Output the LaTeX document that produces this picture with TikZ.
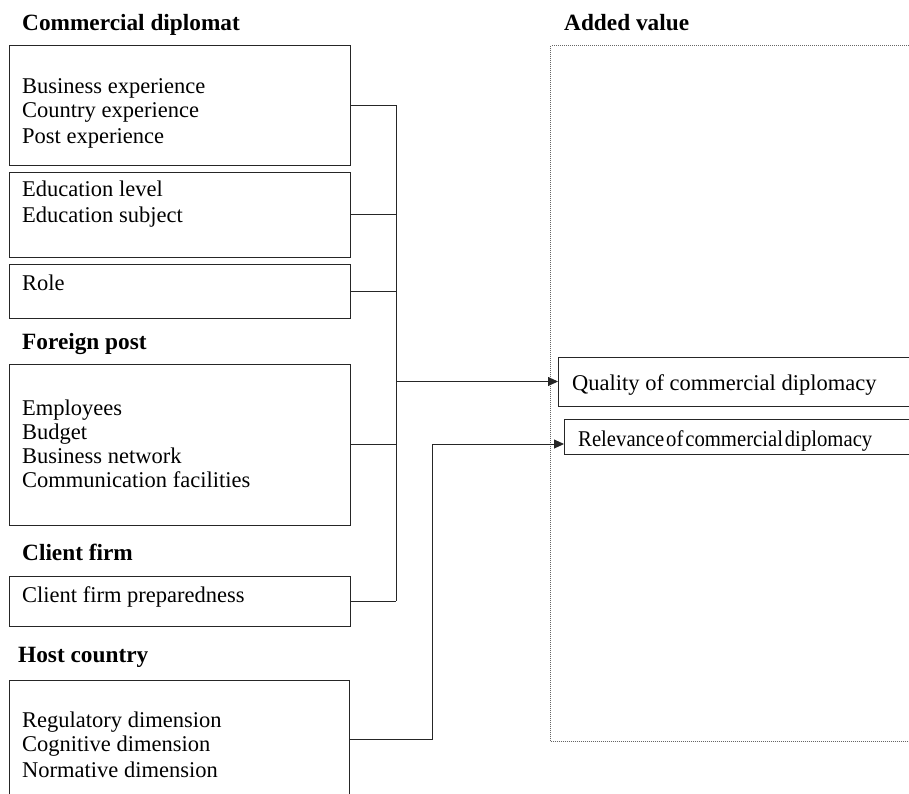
\documentclass[tikz,border=0pt]{standalone}
\usepackage{fontspec}
\setmainfont{Liberation Serif}
\usetikzlibrary{arrows.meta}
\begin{document}
\begin{tikzpicture}[x=1pt,y=-1pt,
  box/.style={draw=black!85, line width=0.9pt, minimum width=341pt, anchor=north west, inner sep=0pt, outer sep=0pt},
  txt/.style={anchor=base west, inner sep=0pt, font=\fontsize{22.5}{24}\selectfont},
  head/.style={anchor=base west, inner sep=0pt, font=\fontsize{23.3}{24}\selectfont\bfseries},
  conn/.style={draw=black!85, line width=0.9pt},
  arr/.style={conn, -{Triangle[length=10pt,width=9pt]}}]
\useasboundingbox (0,0) rectangle (909,793);

% Added value dotted frame
\node[draw=black!60, line width=1pt, dash pattern=on 1pt off 1pt, anchor=north west, inner sep=0pt,
      minimum width=450pt, minimum height=696pt] (av) at (550,45) {};

% headings
\node[head] (h1) at (22,30) {Commercial diplomat};
\node[head] (h2) at (564,30) {Added value};
\node[head] (h3) at (22,349) {Foreign post};
\node[head] (h4) at (22,560) {Client firm};
\node[head] (h5) at (18,662) {Host country};

% boxes
\node[box, minimum height=120pt] (b1) at (9,45) {};
\node[box, minimum height=85pt] (b2) at (9,172) {};
\node[box, minimum height=54pt] (b3) at (9,264) {};
\node[box, minimum height=161pt] (b4) at (9,364) {};
\node[box, minimum height=50pt] (b5) at (9,576) {};
\node[box, minimum width=340pt, minimum height=118pt] (b6) at (9,680) {};
\node[box, minimum width=400pt, minimum height=49pt] (q) at (558,357) {};
\node[box, minimum width=400pt, minimum height=35pt] (r) at (564,419) {};

% box texts
\node[txt] (t1) at (22,93) {Business experience};
\node[txt] (t2) at (22,117) {Country experience};
\node[txt] (t3) at (22,143) {Post experience};
\node[txt] (t4) at (22,196) {Education level};
\node[txt] (t5) at (22,222) {Education subject};
\node[txt] (t6) at (22,290) {Role};
\node[txt] (t7) at (22,415) {Employees};
\node[txt] (t8) at (22,439) {Budget};
\node[txt] (t9) at (22,463) {Business network};
\node[txt] (t10) at (22,487) {Communication facilities};
\node[txt] (t11) at (22,602) {Client firm preparedness};
\node[txt] (t12) at (22,727) {Regulatory dimension};
\node[txt] (t13) at (22,751) {Cognitive dimension};
\node[txt] (t14) at (22,777) {Normative dimension};
\node[txt] (tq) at (572,390) {Quality of commercial diplomacy};
\node[txt] (tr) at (578,446) {\scalebox{0.92}[1]{Relevance\hspace{2pt}of\hspace{2pt}commercial\hspace{2pt}diplomacy}};

% connectors
\coordinate (vx) at (396,0);
\coordinate (hx) at (432,0);
\coordinate (rin) at (564,444);
\draw[conn] (b1.east) -- (b1.east -| vx);
\draw[conn] (b2.east) -- (b2.east -| vx);
\draw[conn] (b3.east) -- (b3.east -| vx);
\draw[conn] (b4.east) -- (b4.east -| vx);
\draw[conn] (b5.east) -- (b5.east -| vx);
\draw[conn] (b1.east -| vx) -- (b5.east -| vx);
\draw[arr] (vx |- q.west) -- (q.west);
\draw[arr] (b6.east) -| (hx |- rin) -- (rin);
\end{tikzpicture}
\end{document}
